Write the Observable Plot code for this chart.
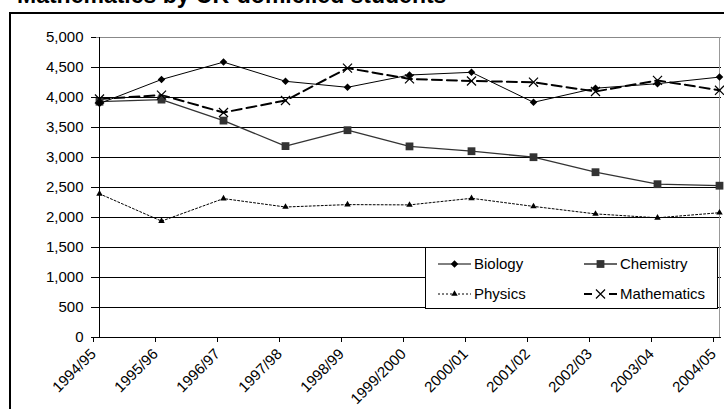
<!DOCTYPE html>
<html>
<head>
<meta charset="utf-8">
<script src="https://cdn.jsdelivr.net/npm/d3@7"></script>
<script src="https://cdn.jsdelivr.net/npm/@observablehq/plot@0.6"></script>
<style>
  html, body { margin: 0; padding: 0; background: #fff; overflow: hidden; }
  body { width: 724px; height: 409px; position: relative; font-family: "Liberation Sans", Arial, sans-serif; }
  #title { position: absolute; left: 17px; top: -16.5px; font-size: 23px; line-height: 23px; font-weight: bold; white-space: nowrap; color: #000; }
  #frame { position: absolute; left: 9px; top: 12px; width: 800px; height: 500px; border: 2px solid #000; }
  #chart { position: absolute; left: 0; top: 0; }
  #legend { position: absolute; left: 425px; top: 247px; width: 291px; height: 60px; border: 1px solid #000; background: #fff; }
  #legend svg { display: block; }
</style>
</head>
<body>
<div id="title">Mathematics by UK-domiciled students</div>
<div id="frame"></div>
<div id="chart"></div>
<div id="legend"></div>
<script>
const years = ["1994/95","1995/96","1996/97","1997/98","1998/99","1999/2000","2000/01","2001/02","2002/03","2003/04","2004/05"];
const biology     = [3900, 4300, 4590, 4270, 4170, 4375, 4420, 3920, 4155, 4230, 4340];
const chemistry   = [3930, 3965, 3615, 3190, 3455, 3185, 3105, 3005, 2755, 2555, 2530];
const physics     = [2395, 1940, 2315, 2175, 2215, 2210, 2320, 2185, 2060, 1995, 2080];
const mathematics = [3975, 4040, 3750, 3950, 4490, 4310, 4275, 4255, 4100, 4285, 4120];
const yTicks = [0, 500, 1000, 1500, 2000, 2500, 3000, 3500, 4000, 4500, 5000];

const series = [
  {name: "Physics", values: physics, stroke: "#000", width: 1, dash: "2,2", symbol: "triangle", r: 2.4, fill: "#000", dotStroke: "none"},
  {name: "Chemistry", values: chemistry, stroke: "#333", width: 1.3, dash: null, symbol: "square", r: 4.4, fill: "#333", dotStroke: "none"},
  {name: "Biology", values: biology, stroke: "#000", width: 1, dash: null, symbol: "diamond2", r: 3.4, fill: "#000", dotStroke: "none"},
  {name: "Mathematics", values: mathematics, stroke: "#000", width: 2, dash: "10,5", symbol: "times", r: 4.2, fill: "none", dotStroke: "#000"}
];

const marks = [
  Plot.gridY(yTicks, {stroke: "#000", strokeOpacity: 1, strokeWidth: 1}),
  Plot.ruleY([5000], {stroke: "#888"}),
  Plot.ruleX([years[years.length - 1]], {stroke: "#999", y1: 0, y2: 5000}),
  Plot.ruleX([years[0]], {stroke: "#000", y1: 0, y2: 5000}),
  Plot.ruleY([0], {stroke: "#000"}),
  Plot.axisY(yTicks, {tickFormat: d3.format(","), tickSize: 5, tickPadding: 8, fontSize: 15, label: null, stroke: "#000"}),
  Plot.axisX({tickRotate: -45, tickSize: 5, tickPadding: 9, dx: -6, fontSize: 15, label: null, stroke: "#000"})
];
for (const s of series) {
  const data = years.map((y, i) => ({year: y, value: s.values[i]}));
  marks.push(Plot.line(data, {x: "year", y: "value", stroke: s.stroke, strokeWidth: s.width, strokeDasharray: s.dash}));
}
for (const s of series) {
  const data = years.map((y, i) => ({year: y, value: s.values[i]}));
  marks.push(Plot.dot(data, {x: "year", y: "value", symbol: () => s.symbol, r: s.r, fill: s.fill, stroke: s.dotStroke, strokeWidth: 1.2}));
}

const chart = Plot.plot({
  width: 724,
  height: 409,
  marginLeft: 96,
  marginRight: 3,
  marginTop: 37,
  marginBottom: 72,
  style: {background: "transparent", fontFamily: "'Liberation Sans', Arial, sans-serif", color: "#000"},
  x: {type: "point", domain: years, padding: 0},
  y: {domain: [0, 5000]},
  marks
});
document.getElementById("chart").appendChild(chart);

// legend
const legendItems = [
  {s: series[2], x: 12, y: 16},
  {s: series[1], x: 158, y: 16},
  {s: series[0], x: 12, y: 46},
  {s: series[3], x: 158, y: 46}
];
const symMap = {triangle: d3.symbolTriangle, square: d3.symbolSquare, diamond2: d3.symbolDiamond2, times: d3.symbolTimes};
const NS = "http://www.w3.org/2000/svg";
const lsvg = document.createElementNS(NS, "svg");
lsvg.setAttribute("width", 291);
lsvg.setAttribute("height", 60);
lsvg.setAttribute("font-family", "'Liberation Sans', Arial, sans-serif");
lsvg.setAttribute("font-size", 15);
for (const it of legendItems) {
  const s = it.s;
  const line = document.createElementNS(NS, "line");
  line.setAttribute("x1", it.x); line.setAttribute("x2", it.x + 33);
  line.setAttribute("y1", it.y); line.setAttribute("y2", it.y);
  line.setAttribute("stroke", s.stroke); line.setAttribute("stroke-width", s.width);
  if (s.dash) line.setAttribute("stroke-dasharray", s.name === "Mathematics" ? "8,17,8" : "2,2");
  lsvg.appendChild(line);
  const p = document.createElementNS(NS, "path");
  p.setAttribute("d", d3.symbol(symMap[s.symbol], s.r * s.r * Math.PI)());
  p.setAttribute("transform", `translate(${it.x + 16.5},${it.y})`);
  p.setAttribute("fill", s.fill); p.setAttribute("stroke", s.dotStroke); p.setAttribute("stroke-width", 1.2);
  lsvg.appendChild(p);
  const t = document.createElementNS(NS, "text");
  t.setAttribute("x", it.x + 36); t.setAttribute("y", it.y); t.setAttribute("dy", "0.35em");
  t.textContent = s.name;
  lsvg.appendChild(t);
}
document.getElementById("legend").appendChild(lsvg);
</script>
</body>
</html>
